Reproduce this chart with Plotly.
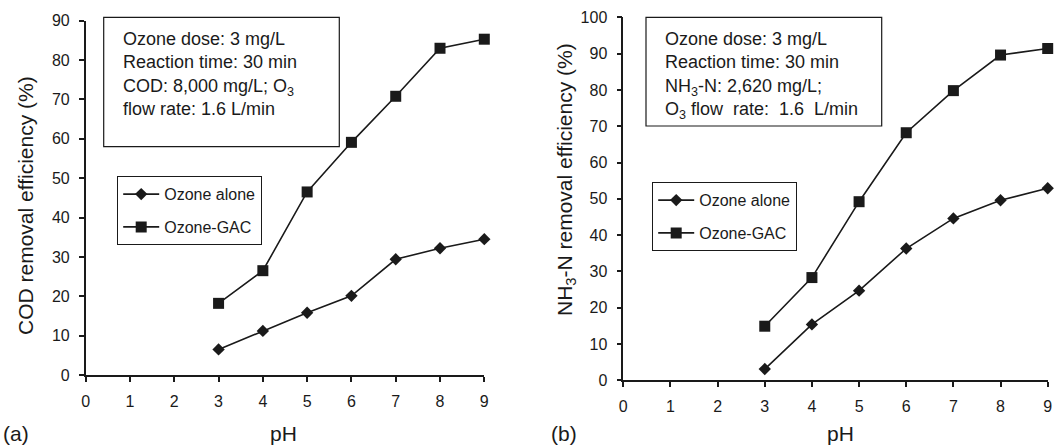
import plotly.graph_objects as go

# ---- data ----
ph = [3, 4, 5, 6, 7, 8, 9]
cod_ozone_alone = [6.5, 11.2, 15.8, 20.1, 29.4, 32.2, 34.5]
cod_ozone_gac = [18.2, 26.5, 46.5, 59.1, 70.8, 83.0, 85.3]
nh3_ozone_alone = [3.1, 15.4, 24.7, 36.3, 44.6, 49.6, 52.9]
nh3_ozone_gac = [14.9, 28.3, 49.2, 68.2, 79.8, 89.6, 91.4]

series_names = ["Ozone alone", "Ozone-GAC"]
x_ticks = list(range(0, 10))
y_ticks_a = list(range(0, 100, 10))
y_ticks_b = list(range(0, 110, 10))

W, H = 1059, 446
FONT = "Arial, Liberation Sans, sans-serif"
INK = "#1a1a1a"


def px_x(p):
    return p / W


def px_y(p):
    return 1 - p / H


fig = go.Figure()

line_style = dict(color=INK, width=1.6)
alone_marker = dict(symbol="diamond", size=9.5, color=INK)
gac_marker = dict(symbol="square", size=11, color=INK)

fig.add_trace(go.Scatter(x=ph, y=cod_ozone_alone, name=series_names[0], mode="lines+markers",
                         line=line_style, marker=alone_marker, xaxis="x", yaxis="y",
                         legend="legend", legendgroup="a1", cliponaxis=False))
fig.add_trace(go.Scatter(x=ph, y=cod_ozone_gac, name=series_names[1], mode="lines+markers",
                         line=line_style, marker=gac_marker, xaxis="x", yaxis="y",
                         legend="legend", legendgroup="a2", cliponaxis=False))
fig.add_trace(go.Scatter(x=ph, y=nh3_ozone_alone, name=series_names[0], mode="lines+markers",
                         line=line_style, marker=alone_marker, xaxis="x2", yaxis="y2",
                         legend="legend2", legendgroup="b1", cliponaxis=False))
fig.add_trace(go.Scatter(x=ph, y=nh3_ozone_gac, name=series_names[1], mode="lines+markers",
                         line=line_style, marker=gac_marker, xaxis="x2", yaxis="y2",
                         legend="legend2", legendgroup="b2", cliponaxis=False))

axis_common = dict(
    showline=True, linecolor=INK, linewidth=1.6, showgrid=False, zeroline=False,
    ticks="outside", ticklen=5, tickwidth=1.5, tickcolor=INK, automargin=False,
    tickfont=dict(family=FONT, size=16, color=INK),
)

fig.update_layout(
    template="none",
    width=W, height=H,
    margin=dict(l=0, r=0, t=0, b=0, autoexpand=False),
    paper_bgcolor="white", plot_bgcolor="white",
    font=dict(family=FONT, color=INK),
    xaxis=dict(axis_common, domain=[px_x(85.7), px_x(484.3)], range=[0, 9],
               tickvals=x_ticks, anchor="y", ticklabelstandoff=6),
    yaxis=dict(axis_common, domain=[px_y(375), px_y(20.7)], range=[0, 90],
               tickvals=y_ticks_a, anchor="x", ticklabelstandoff=6),
    xaxis2=dict(axis_common, domain=[px_x(623.3), px_x(1047.7)], range=[0, 9],
                tickvals=x_ticks, anchor="y2", ticklabelstandoff=6),
    yaxis2=dict(axis_common, domain=[px_y(380.3), px_y(17.3)], range=[0, 100],
                tickvals=y_ticks_b, anchor="x2", ticklabelstandoff=6),
    legend=dict(x=px_x(117), y=px_y(176), xanchor="left", yanchor="top",
                bordercolor=INK, borderwidth=1.2, bgcolor="white",
                font=dict(family=FONT, size=16, color=INK),
                tracegroupgap=9, itemwidth=36),
    legend2=dict(x=px_x(652), y=px_y(182), xanchor="left", yanchor="top",
                 bordercolor=INK, borderwidth=1.2, bgcolor="white",
                 font=dict(family=FONT, size=16, color=INK),
                 tracegroupgap=9, itemwidth=36),
    showlegend=True,
)

# info boxes
fig.add_shape(type="rect", xref="paper", yref="paper",
              x0=px_x(103.7), x1=px_x(339.3), y0=px_y(146.7), y1=px_y(17.3),
              line=dict(color=INK, width=1.2), fillcolor="rgba(0,0,0,0)")
fig.add_shape(type="rect", xref="paper", yref="paper",
              x0=px_x(646), x1=px_x(881.7), y0=px_y(126), y1=px_y(17.3),
              line=dict(color=INK, width=1.2), fillcolor="rgba(0,0,0,0)")

info_a = "Ozone dose: 3 mg/L<br>Reaction time: 30 min<br>COD: 8,000 mg/L; O<sub>3</sub><br>flow rate: 1.6 L/min"
info_b = ("Ozone dose: 3 mg/L<br>Reaction time: 30 min<br>NH<sub>3</sub>-N: 2,620 mg/L;<br>"
          "O<sub>3</sub> flow\u00a0 rate:\u00a0 1.6\u00a0 L/min")

fig.add_annotation(text=info_a, xref="paper", yref="paper", x=px_x(121), y=px_y(27),
                   xanchor="left", yanchor="top", align="left", showarrow=False,
                   font=dict(family=FONT, size=18, color=INK))
fig.add_annotation(text=info_b, xref="paper", yref="paper", x=px_x(663), y=px_y(27),
                   xanchor="left", yanchor="top", align="left", showarrow=False,
                   font=dict(family=FONT, size=18, color=INK))

# axis titles
title_font = dict(family=FONT, size=21, color=INK)
fig.add_annotation(text="COD removal efficiency (%)", xref="paper", yref="paper",
                   x=px_x(25), y=px_y(206), textangle=-90, showarrow=False,
                   xanchor="center", yanchor="middle", font=title_font)
fig.add_annotation(text="NH<sub>3</sub>-N removal efficiency (%)", xref="paper", yref="paper",
                   x=px_x(566), y=px_y(180), textangle=-90, showarrow=False,
                   xanchor="center", yanchor="middle", font=title_font)
fig.add_annotation(text="pH", xref="paper", yref="paper", x=px_x(283), y=px_y(433),
                   showarrow=False, xanchor="center", yanchor="middle", font=title_font)
fig.add_annotation(text="pH", xref="paper", yref="paper", x=px_x(840), y=px_y(433),
                   showarrow=False, xanchor="center", yanchor="middle", font=title_font)
fig.add_annotation(text="(a)", xref="paper", yref="paper", x=px_x(1), y=px_y(433),
                   showarrow=False, xanchor="left", yanchor="middle", font=title_font)
fig.add_annotation(text="(b)", xref="paper", yref="paper", x=px_x(549), y=px_y(433),
                   showarrow=False, xanchor="left", yanchor="middle", font=title_font)

fig.write_html(
    "out.html",
    config={"displayModeBar": False},
    post_script="document.body.style.margin='0';document.body.style.overflow='hidden';",
)
